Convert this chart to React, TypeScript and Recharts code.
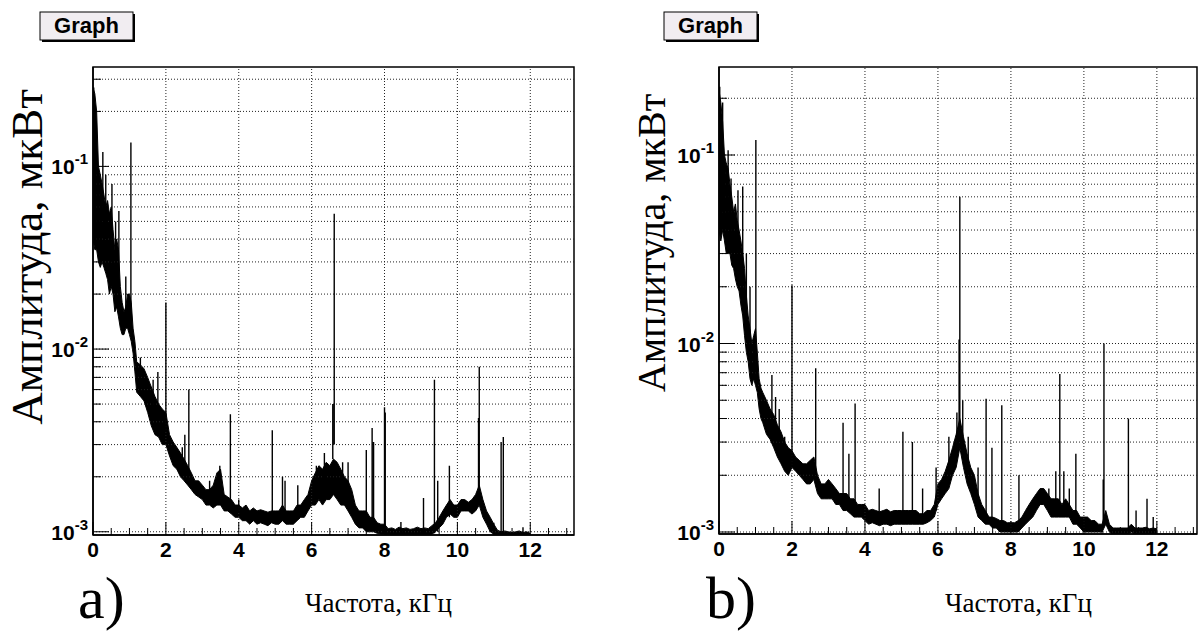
import React from 'react';
import { ComposedChart, Area, Line, XAxis, YAxis, ReferenceLine, ReferenceArea } from 'recharts';

// Frequency grid (kHz) of the noise band envelope, shared by both panels
const bandFreq = [
  0, 0.05, 0.1, 0.15, 0.2, 0.25, 0.3, 0.35, 0.4, 0.45, 0.5, 0.55, 0.6, 0.65, 0.7, 0.75, 0.8, 0.85, 0.9, 0.95, 1.0, 1.05, 1.1, 1.15, 1.2,
  1.3, 1.4, 1.5, 1.6, 1.7, 1.8, 1.9, 2.0,
  2.1, 2.2, 2.3, 2.4, 2.5, 2.6, 2.7, 2.8, 2.9, 3.0,
  3.1, 3.2, 3.3, 3.4, 3.5, 3.6, 3.7, 3.8, 3.9, 4.0,
  4.1, 4.2, 4.3, 4.4, 4.5, 4.6, 4.7, 4.8, 4.9, 5.0,
  5.1, 5.2, 5.3, 5.4, 5.5, 5.6, 5.7, 5.8, 5.9, 6.0,
  6.1, 6.2, 6.3, 6.4, 6.5, 6.6, 6.7, 6.8, 6.9, 7.0,
  7.1, 7.2, 7.3, 7.4, 7.5, 7.6, 7.7, 7.8, 7.9, 8.0,
  8.1, 8.2, 8.3, 8.4, 8.5, 8.6, 8.7, 8.8, 8.9, 9.0,
  9.1, 9.2, 9.3, 9.4, 9.5, 9.6, 9.7, 9.8, 9.9, 10.0,
  10.1, 10.2, 10.3, 10.4, 10.5, 10.6, 10.7, 10.8, 10.9, 11.0,
  11.1, 11.2, 11.3, 11.4, 11.5, 11.6, 11.7, 11.8, 11.9, 12.0,
];

// Panel a) — lower / upper edge of the noisy spectrum (µW)
const loA = [
  0.04, 0.035, 0.035, 0.03, 0.028, 0.03, 0.028, 0.026, 0.024, 0.02, 0.022, 0.02, 0.016, 0.017, 0.015, 0.013, 0.012, 0.012, 0.013, 0.013, 0.012, 0.011, 0.0095, 0.0075, 0.0058,
  0.0055, 0.0052, 0.0045, 0.0038, 0.0034, 0.0033, 0.003, 0.003,
  0.0026, 0.0023, 0.0022, 0.002, 0.0019, 0.0018, 0.0017, 0.0016, 0.00155, 0.0015,
  0.0014, 0.0014, 0.00135, 0.0014, 0.0014, 0.0013, 0.0013, 0.00125, 0.0012, 0.0012,
  0.00115, 0.00115, 0.0011, 0.00115, 0.0011, 0.00112, 0.0011, 0.00108, 0.00112, 0.0011,
  0.0011, 0.00115, 0.0011, 0.0011, 0.0011, 0.00115, 0.0012, 0.0012, 0.0013, 0.0014,
  0.0014, 0.0015, 0.0014, 0.0015, 0.0015, 0.0016, 0.0015, 0.0014, 0.0014, 0.0013,
  0.0012, 0.0011, 0.00105, 0.00105, 0.001, 0.001, 0.001, 0.00098, 0.00097, 0.00097,
  0.00095, 0.00095, 0.00095, 0.00095, 0.00095, 0.00095, 0.00095, 0.00095, 0.00095, 0.00095,
  0.00095, 0.00095, 0.00097, 0.001, 0.00105, 0.0011, 0.0012, 0.00125, 0.0012, 0.0012,
  0.0013, 0.0013, 0.0013, 0.00125, 0.0013, 0.0014, 0.0012, 0.0011, 0.001, 0.00097,
  0.00096, 0.00093, 0.00093, 0.00093, 0.00093, 0.00093, 0.00093, 0.00093, 0.00093, 0.00093,
];
const hiA = [
  0.27, 0.25, 0.2, 0.1, 0.09, 0.08, 0.07, 0.06, 0.065, 0.055, 0.06, 0.045, 0.035, 0.04, 0.035, 0.022, 0.018, 0.016, 0.017, 0.02, 0.02, 0.018, 0.013, 0.011, 0.0085,
  0.0082, 0.0078, 0.007, 0.0062, 0.0055, 0.005, 0.0047, 0.0045,
  0.0034, 0.0031, 0.0029, 0.0027, 0.0025, 0.0023, 0.0021, 0.0019, 0.0019, 0.0018,
  0.0017, 0.0017, 0.0018, 0.0021, 0.0022, 0.0016, 0.00155, 0.0015, 0.0014, 0.0014,
  0.00135, 0.0014, 0.0013, 0.00135, 0.0013, 0.00132, 0.0013, 0.00128, 0.0013, 0.0013,
  0.0013, 0.0014, 0.0013, 0.0013, 0.0013, 0.0014, 0.0014, 0.0015, 0.0016, 0.0019,
  0.0021, 0.0023, 0.0022, 0.0024, 0.0023, 0.0025, 0.0024, 0.0022, 0.002, 0.0019,
  0.0017, 0.0014, 0.0013, 0.0013, 0.0013, 0.0012, 0.0012, 0.00112, 0.0011, 0.0011,
  0.00104, 0.00105, 0.00103, 0.00106, 0.00104, 0.00105, 0.00103, 0.00104, 0.00106, 0.00104,
  0.00105, 0.00104, 0.00108, 0.00112, 0.0012, 0.0013, 0.0014, 0.0015, 0.0014, 0.0014,
  0.0015, 0.0015, 0.00145, 0.0015, 0.0016, 0.0018, 0.0015, 0.0013, 0.0012, 0.0011,
  0.00102, 0.001, 0.00101, 0.001, 0.00099, 0.001, 0.00101, 0.00099, 0.001, 0.00098,
];

// Panel a) — narrow spectral lines
const spikeFreqA = [0.02, 0.27, 0.35, 0.52, 0.62, 0.71, 0.9, 1.04, 1.3, 1.65, 1.78, 2.0, 2.45, 2.52, 2.63, 3.2, 3.48, 3.77, 4.0, 4.92, 5.2, 5.27, 5.62, 5.95, 6.13, 6.35, 6.58, 6.62, 6.85, 7.0, 7.5, 7.66, 7.7, 8.0, 8.02, 8.45, 9.07, 9.37, 9.46, 9.78, 10.58, 10.6, 11.0, 11.2, 11.26, 11.8];
const spikeBaseA = [0.05, 0.05, 0.04, 0.03, 0.02, 0.02, 0.014, 0.014, 0.006, 0.0045, 0.004, 0.0035, 0.0023, 0.0023, 0.002, 0.0015, 0.0018, 0.0014, 0.0013, 0.0012, 0.0013, 0.0013, 0.0013, 0.0014, 0.0018, 0.0019, 0.0025, 0.003, 0.0018, 0.0015, 0.0011, 0.0011, 0.0011, 0.001, 0.001, 0.00098, 0.00098, 0.00098, 0.001, 0.0012, 0.0015, 0.0015, 0.00096, 0.00095, 0.00095, 0.00095];
const spikeTopA = [0.27, 0.12, 0.09, 0.08, 0.05, 0.057, 0.025, 0.135, 0.009, 0.0068, 0.0075, 0.018, 0.0029, 0.0034, 0.006, 0.0019, 0.0023, 0.0044, 0.0015, 0.0036, 0.002, 0.0019, 0.0018, 0.0016, 0.0023, 0.0027, 0.005, 0.055, 0.0024, 0.0024, 0.0028, 0.0037, 0.0031, 0.0048, 0.0045, 0.00113, 0.00153, 0.0068, 0.0019, 0.0023, 0.0042, 0.008, 0.00112, 0.0031, 0.0033, 0.00106];

// Panel b)
const loB = [
  0.04, 0.035, 0.04, 0.035, 0.03, 0.03, 0.03, 0.026, 0.025, 0.022, 0.02, 0.019, 0.016, 0.014, 0.011, 0.009, 0.008, 0.0065, 0.006, 0.0065, 0.006, 0.0055, 0.0045, 0.004, 0.0038,
  0.0033, 0.0031, 0.0028, 0.0025, 0.0023, 0.0021, 0.002, 0.0022,
  0.0021, 0.002, 0.0019, 0.0018, 0.0018, 0.0019, 0.0016, 0.0015, 0.0015, 0.0015,
  0.0015, 0.0014, 0.0014, 0.0013, 0.0013, 0.00125, 0.0012, 0.0012, 0.0012, 0.00115,
  0.0011, 0.00112, 0.0011, 0.00108, 0.0011, 0.0011, 0.00108, 0.0011, 0.0011, 0.0011,
  0.0011, 0.0011, 0.0011, 0.0011, 0.0011, 0.0011, 0.00112, 0.00115, 0.0012, 0.0014,
  0.0015, 0.0016, 0.0017, 0.002, 0.0022, 0.0028, 0.0022, 0.0018, 0.0016, 0.0014,
  0.0012, 0.00115, 0.0011, 0.0011, 0.00105, 0.00105, 0.001, 0.001, 0.001, 0.001,
  0.001, 0.001, 0.00105, 0.0011, 0.00115, 0.0012, 0.0013, 0.0014, 0.0014, 0.0013,
  0.0012, 0.0012, 0.0012, 0.0012, 0.0012, 0.0012, 0.0011, 0.0011, 0.00105, 0.001,
  0.001, 0.001, 0.001, 0.001, 0.001, 0.0011, 0.001, 0.00097, 0.00097, 0.00097,
  0.00097, 0.00097, 0.001, 0.00097, 0.00097, 0.00097, 0.00097, 0.00097, 0.00097, 0.00097,
];
const hiB = [
  0.22, 0.19, 0.15, 0.1, 0.09, 0.085, 0.07, 0.06, 0.05, 0.055, 0.045, 0.04, 0.035, 0.03, 0.025, 0.018, 0.014, 0.012, 0.01, 0.011, 0.012, 0.009, 0.0065, 0.0058, 0.0055,
  0.005, 0.0045, 0.0042, 0.0037, 0.0034, 0.003, 0.0028, 0.0027,
  0.0025, 0.0024, 0.0023, 0.0023, 0.0024, 0.0025, 0.002, 0.0018, 0.0018, 0.0019,
  0.0018, 0.0017, 0.0016, 0.0016, 0.0016, 0.0015, 0.0015, 0.0014, 0.0014, 0.0014,
  0.0013, 0.00132, 0.0013, 0.00128, 0.0013, 0.00132, 0.00128, 0.0013, 0.0013, 0.0013,
  0.0013, 0.0013, 0.0013, 0.0013, 0.00125, 0.00125, 0.0013, 0.0013, 0.0014, 0.0018,
  0.0019, 0.0021, 0.0024, 0.0028, 0.0033, 0.004, 0.0032, 0.0026, 0.0022, 0.002,
  0.0016, 0.0014, 0.0013, 0.0012, 0.0012, 0.00118, 0.00115, 0.00115, 0.00112, 0.00112,
  0.00112, 0.00115, 0.0012, 0.0013, 0.0014, 0.0015, 0.0016, 0.0017, 0.0017, 0.0016,
  0.0015, 0.0015, 0.0015, 0.0014, 0.0015, 0.0014, 0.0013, 0.0013, 0.0012, 0.0012,
  0.0012, 0.00115, 0.00115, 0.0011, 0.0011, 0.0013, 0.0011, 0.00105, 0.00105, 0.00105,
  0.00105, 0.00105, 0.0011, 0.00105, 0.00105, 0.00105, 0.00106, 0.00104, 0.00105, 0.00104,
];
const spikeFreqB = [0.02, 0.1, 0.25, 0.33, 0.52, 0.65, 0.75, 0.85, 1.01, 1.45, 1.55, 1.65, 1.8, 2.0, 2.65, 3.4, 3.56, 3.73, 4.39, 5.04, 5.3, 5.58, 5.95, 6.3, 6.52, 6.58, 6.6, 6.68, 6.83, 7.1, 7.32, 7.48, 7.75, 8.22, 9.04, 9.23, 9.34, 9.45, 9.6, 9.78, 10.53, 10.55, 11.22, 11.43, 11.73, 11.9];
const spikeBaseB = [0.05, 0.05, 0.04, 0.03, 0.025, 0.02, 0.012, 0.008, 0.007, 0.004, 0.003, 0.003, 0.0025, 0.0022, 0.002, 0.0015, 0.0014, 0.0013, 0.0012, 0.0012, 0.0012, 0.0012, 0.0013, 0.0019, 0.0025, 0.003, 0.003, 0.0025, 0.002, 0.0013, 0.0012, 0.0011, 0.0011, 0.0011, 0.0014, 0.0014, 0.0014, 0.0013, 0.0013, 0.0012, 0.0011, 0.0011, 0.001, 0.001, 0.001, 0.001];
const spikeTopB = [0.23, 0.19, 0.106, 0.075, 0.065, 0.068, 0.03, 0.02, 0.12, 0.0068, 0.0052, 0.0045, 0.0032, 0.0204, 0.0074, 0.0038, 0.0026, 0.0048, 0.0017, 0.0034, 0.003, 0.0017, 0.0022, 0.0032, 0.0043, 0.0105, 0.06, 0.005, 0.0032, 0.0022, 0.0051, 0.0028, 0.0047, 0.002, 0.0017, 0.0021, 0.0069, 0.0021, 0.0017, 0.0026, 0.0019, 0.01, 0.004, 0.0013, 0.0015, 0.0012];

// Axis ticks
const xTicks = [0, 0.5, 1, 1.5, 2, 2.5, 3, 3.5, 4, 4.5, 5, 5.5, 6, 6.5, 7, 7.5, 8, 8.5, 9, 9.5, 10, 10.5, 11, 11.5, 12, 12.5, 13];
const xLabels = [0, 2, 4, 6, 8, 10, 12];
const xGrid = [2, 4, 6, 8, 10, 12];
const yTicksA = [0.001, 0.002, 0.003, 0.004, 0.005, 0.006, 0.007, 0.008, 0.009, 0.01, 0.02, 0.03, 0.04, 0.05, 0.06, 0.07, 0.08, 0.09, 0.1, 0.2, 0.3];
const yTicksB = [0.001, 0.002, 0.003, 0.004, 0.005, 0.006, 0.007, 0.008, 0.009, 0.01, 0.02, 0.03, 0.04, 0.05, 0.06, 0.07, 0.08, 0.09, 0.1, 0.2];

const SANS = '"Liberation Sans", Arial, Helvetica, sans-serif';
const SERIF = '"Liberation Serif", "Times New Roman", serif';

const buildBand = (lo: number[], hi: number[]) => bandFreq.map((f, i) => ({ f, r: [lo[i], hi[i]] }));
const buildSpikes = (fs: number[], base: number[], top: number[]) =>
  fs.flatMap((f, i) => [
    { f, v: base[i] },
    { f, v: top[i] },
    { f, v: null as number | null },
  ]);

const XTick = (props: any) => {
  const { x, y, payload } = props;
  const v = payload.value;
  const major = xLabels.indexOf(v) >= 0;
  return (
    <g>
      <line x1={x} x2={x} y1={y} y2={y - (major ? 13 : 7)} stroke="#000" strokeWidth={1} />
      {major && (
        <text x={x} y={y + 22} textAnchor="middle" fontFamily={SANS} fontWeight="bold" fontSize={21} fill="#000">
          {v}
        </text>
      )}
    </g>
  );
};

const YTick = (props: any) => {
  const { x, y, payload } = props;
  const v = payload.value;
  const e = Math.log10(v);
  const major = Math.abs(e - Math.round(e)) < 1e-6;
  return (
    <g>
      <line x1={x} x2={x + (major ? 16 : 8)} y1={y} y2={y} stroke="#000" strokeWidth={1} />
      {major && (
        <text x={x - 5} y={y + 8} textAnchor="end" fontFamily={SANS} fontWeight="bold" fontSize={21} fill="#000">
          10
          <tspan dy={-10} fontSize={15}>{Math.round(e)}</tspan>
        </text>
      )}
    </g>
  );
};

type PanelProps = {
  band: any[];
  spikes: any[];
  xMax: number;
  yDomain: [number, number];
  yTicks: number[];
  yAxisWidth: number;
  marginRight: number;
  xAxisHeight: number;
};

const Panel = ({ band, spikes, xMax, yDomain, yTicks, yAxisWidth, marginRight, xAxisHeight }: PanelProps) => (
  <ComposedChart width={600} height={631} data={band} margin={{ top: 67, right: marginRight, bottom: 0, left: 0 }}>
    <XAxis
      dataKey="f"
      type="number"
      domain={[0, xMax]}
      ticks={xTicks.filter((t) => t <= xMax)}
      interval={0}
      tickSize={0}
      tickMargin={0}
      tick={<XTick />}
      axisLine={{ stroke: '#000', strokeWidth: 1.5 }}
      height={xAxisHeight}
      allowDataOverflow
    />
    <YAxis
      type="number"
      scale="log"
      domain={yDomain}
      ticks={yTicks}
      interval={0}
      tickSize={0}
      tickMargin={0}
      tick={<YTick />}
      width={yAxisWidth}
      axisLine={{ stroke: '#000', strokeWidth: 1.5 }}
      allowDataOverflow
    />
    {xGrid.map((v) => (
      <ReferenceLine key={'gx' + v} x={v} stroke="#222" strokeWidth={1} strokeDasharray="1 2" />
    ))}
    {yTicks.map((v) => (
      <ReferenceLine key={'gy' + v} y={v} stroke="#222" strokeWidth={1} strokeDasharray="1 2" />
    ))}
    <Area
      dataKey="r"
      type="linear"
      stroke="#000"
      strokeWidth={1}
      fill="#000"
      fillOpacity={1}
      dot={false}
      activeDot={false}
      isAnimationActive={false}
    />
    <Line
      data={spikes}
      dataKey="v"
      type="linear"
      stroke="#000"
      strokeWidth={1.4}
      dot={false}
      activeDot={false}
      connectNulls={false}
      isAnimationActive={false}
    />
    <ReferenceArea x1={0} x2={xMax} y1={yDomain[0]} y2={yDomain[1]} fill="none" stroke="#000" strokeWidth={1.5} />
  </ComposedChart>
);

const GraphBox = ({ x }: { x: number }) => (
  <g>
    <rect x={x + 2} y={14} width={93} height={28} fill="#000" />
    <rect x={x} y={12} width={93} height={28} fill="#f1edf1" stroke="#000" strokeWidth={1} />
    <text x={x + 46.5} y={33} textAnchor="middle" fontFamily={SANS} fontWeight="bold" fontSize={22} fill="#000">
      Graph
    </text>
  </g>
);

export default function App() {
  const bandA = buildBand(loA, hiA);
  const bandB = buildBand(loB, hiB);
  const spikesA = buildSpikes(spikeFreqA, spikeBaseA, spikeTopA);
  const spikesB = buildSpikes(spikeFreqB, spikeBaseB, spikeTopB);
  return (
    <div style={{ position: 'absolute', left: 0, top: 0, width: 1200, height: 631, background: '#fff', overflow: 'hidden' }}>
      <div style={{ position: 'absolute', left: 0, top: 0 }}>
        <Panel band={bandA} spikes={spikesA} xMax={13.2} yDomain={[0.00096, 0.35]} yTicks={yTicksA} yAxisWidth={93} marginRight={26} xAxisHeight={96} />
      </div>
      <div style={{ position: 'absolute', left: 600, top: 0 }}>
        <Panel band={bandB} spikes={spikesB} xMax={13.1} yDomain={[0.000976, 0.293]} yTicks={yTicksB} yAxisWidth={119} marginRight={3} xAxisHeight={97} />
      </div>
      <svg width={1200} height={631} style={{ position: 'absolute', left: 0, top: 0, pointerEvents: 'none' }}>
        <GraphBox x={40} />
        <GraphBox x={664} />
        <text transform="translate(42,257) rotate(-90)" textAnchor="middle" fontFamily={SERIF} fontSize={45} fill="#000">
          Амплитуда, мкВт
        </text>
        <text transform="translate(665,243) rotate(-90)" textAnchor="middle" fontFamily={SERIF} fontSize={40} fill="#000">
          Амплитуда, мкВт
        </text>
        <text x={78} y={618} fontFamily={SERIF} fontSize={60} fill="#000">a)</text>
        <text x={305} y={612} fontFamily={SERIF} fontSize={27} fill="#000">Частота, кГц</text>
        <text x={706} y={618} fontFamily={SERIF} fontSize={60} fill="#000">b)</text>
        <text x={945} y={612} fontFamily={SERIF} fontSize={27} fill="#000">Частота, кГц</text>
      </svg>
    </div>
  );
}
